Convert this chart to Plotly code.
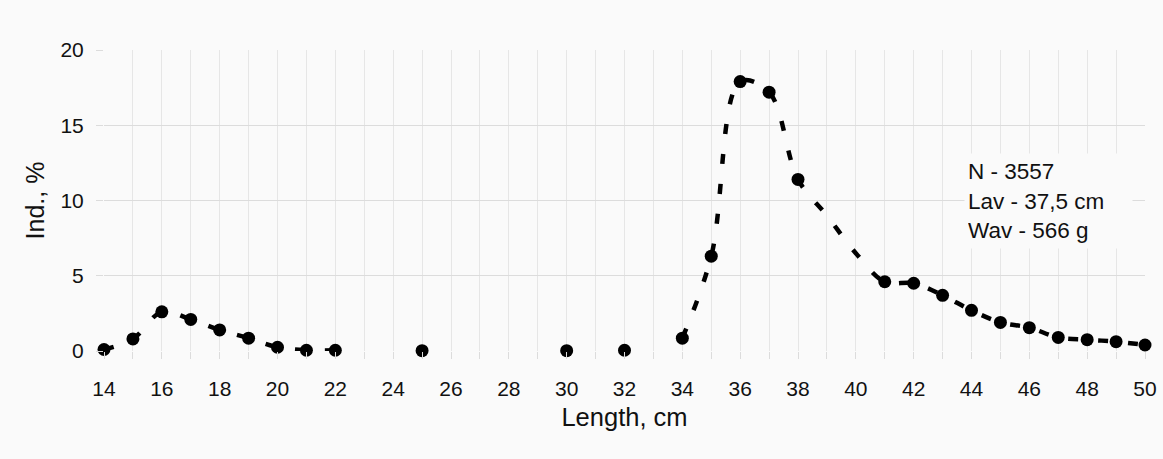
import plotly.graph_objects as go

# Measured points (markers)
length_pts = [14, 15, 16, 17, 18, 19, 20, 21, 22, 25, 30, 32, 34, 35, 36, 37, 38,
              41, 42, 43, 44, 45, 46, 47, 48, 49, 50]
ind_pts = [0.1, 0.8, 2.6, 2.1, 1.4, 0.85, 0.25, 0.05, 0.05, 0.02, 0.02, 0.05, 0.85,
           6.3, 17.9, 17.2, 11.4, 4.6, 4.5, 3.7, 2.7, 1.9, 1.55, 0.9, 0.75, 0.62, 0.4]

# Smoothed dashed curve (broken where no data)
length_line = [14, 15, 16, 17, 18, 19, 20, 21, 22, None,
               34, 35, 36, 37, 38, 39, 40, 41, 42, 43, 44, 45, 46, 47, 48, 49, 50]
ind_line = [0.1, 0.8, 2.6, 2.1, 1.4, 0.85, 0.25, 0.05, 0.05, None,
            0.85, 6.3, 17.9, 17.2, 11.4, 9.0, 6.5, 4.6, 4.5, 3.7, 2.7, 1.9, 1.55, 0.9, 0.75, 0.62, 0.4]

x_tickvals = list(range(14, 51))
x_ticktext = [str(v) if v % 2 == 0 else "" for v in x_tickvals]
y_tickvals = [0, 5, 10, 15, 20]

stats_text = "N - 3557<br>Lav - 37,5 cm<br>Wav - 566 g"

BG = "#fafafa"
FONT = "Liberation Sans, Arial, sans-serif"

fig = go.Figure()
fig.add_trace(go.Scatter(
    x=length_line, y=ind_line, mode="lines", connectgaps=False,
    line=dict(color="black", width=4.5, dash="10px,20px", shape="spline", smoothing=1.0),
    hoverinfo="skip", showlegend=False, cliponaxis=False,
))
fig.add_trace(go.Scatter(
    x=length_pts, y=ind_pts, mode="markers",
    marker=dict(color="black", size=13, line=dict(width=0)),
    showlegend=False, cliponaxis=False,
))

fig.add_annotation(
    x=43.75, y=13.15, xref="x", yref="y", xanchor="left", yanchor="top",
    text=stats_text, showarrow=False, align="left",
    font=dict(family=FONT, size=22.5, color="#111"),
    bgcolor=BG, borderpad=3, width=161, height=88,
)

fig.update_layout(
    width=1163, height=459,
    margin=dict(l=104, r=18, t=50, b=108, autoexpand=False),
    paper_bgcolor=BG, plot_bgcolor=BG,
    font=dict(family=FONT, color="#111"),
    xaxis=dict(
        range=[14, 50], tickmode="array", tickvals=x_tickvals, ticktext=x_ticktext,
        showgrid=True, gridcolor="#e6e6e6", gridwidth=1, zeroline=False, showline=False,
        ticks="outside", ticklen=7, tickcolor="#dcdcdc", tickwidth=1, automargin=False,
        tickfont=dict(size=21, color="#111"), ticklabelstandoff=12,
        title=dict(text="Length, cm", font=dict(size=25.5, color="#111"), standoff=8),
    ),
    yaxis=dict(
        range=[0, 20], tickmode="array", tickvals=y_tickvals,
        showgrid=True, gridcolor="#dcdcdc", gridwidth=1, zeroline=False, showline=False,
        ticks="outside", ticklen=7, tickcolor="#dcdcdc", tickwidth=1, automargin=False,
        tickfont=dict(size=21, color="#111"), ticklabelstandoff=8,
        title=dict(text="Ind., %", font=dict(size=25, color="#111"), standoff=8),
    ),
)

fig.write_html(
    "out.html",
    config={"displayModeBar": False},
    post_script="document.body.style.margin='0';document.body.style.background='#fafafa';",
)
